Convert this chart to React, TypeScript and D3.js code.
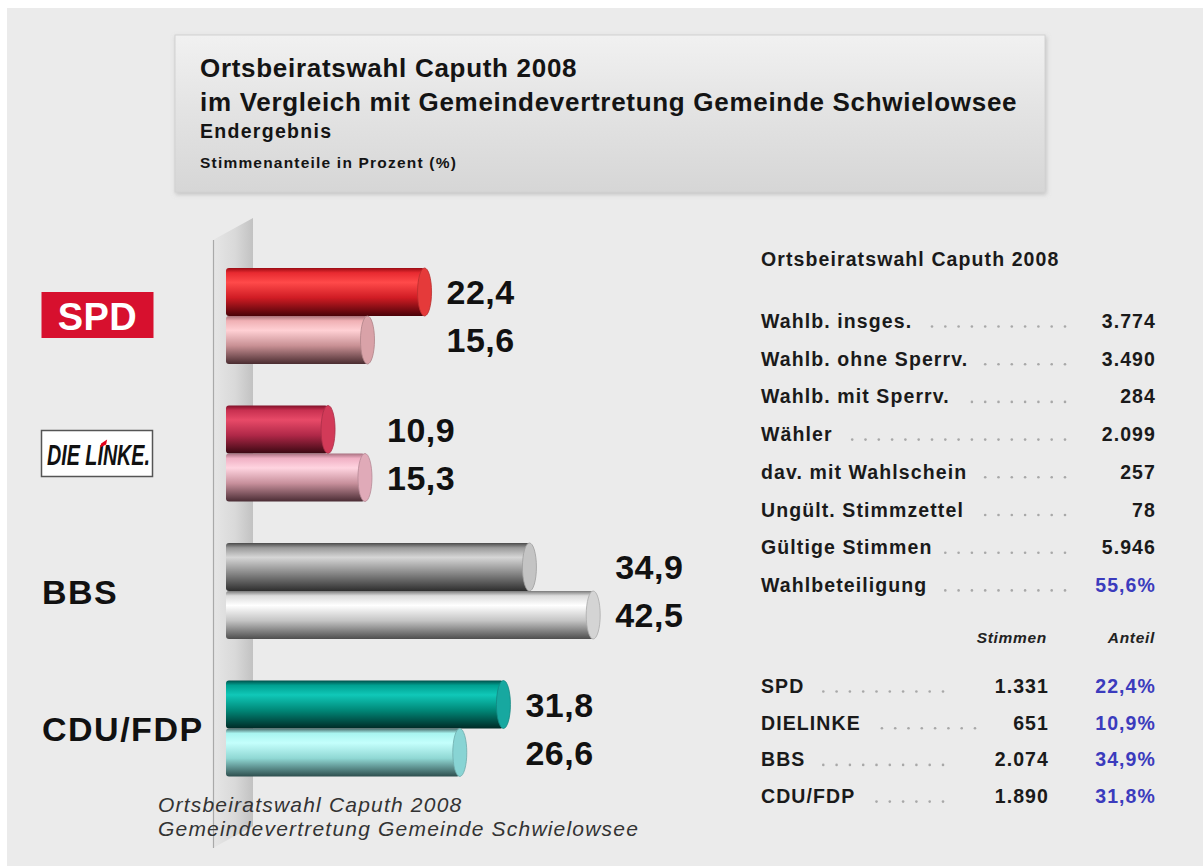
import React, { useEffect, useRef } from "react";
import * as d3 from "d3";

// ---------- data ----------
const categories = ["SPD", "DIE LINKE", "BBS", "CDU/FDP"];
const caputhValues = [22.4, 10.9, 34.9, 31.8];
const gemeindeValues = [15.6, 15.3, 42.5, 26.6];

const legendLabels = ["Ortsbeiratswahl Caputh 2008", "Gemeindevertretung Gemeinde Schwielowsee"];

const titleLines = [
  "Ortsbeiratswahl Caputh 2008",
  "im Vergleich mit Gemeindevertretung Gemeinde Schwielowsee",
  "Endergebnis",
  "Stimmenanteile in Prozent (%)",
];

const tableHeading = "Ortsbeiratswahl Caputh 2008";
const statLabels = [
  "Wahlb. insges.",
  "Wahlb. ohne Sperrv.",
  "Wahlb. mit Sperrv.",
  "Wähler",
  "dav. mit Wahlschein",
  "Ungült. Stimmzettel",
  "Gültige Stimmen",
  "Wahlbeteiligung",
];
const statValues = ["3.774", "3.490", "284", "2.099", "257", "78", "5.946", "55,6%"];
const partyHeaders = ["Stimmen", "Anteil"];
const partyNames = ["SPD", "DIELINKE", "BBS", "CDU/FDP"];
const partyVotes = ["1.331", "651", "2.074", "1.890"];
const partyShares = ["22,4%", "10,9%", "34,9%", "31,8%"];

// ---------- styles ----------
const caputhStops = [
  ["#9a0c14", "#e82a30", "#ff4a4a", "#d01c24", "#4a0208"],
  ["#801028", "#c83050", "#e84a68", "#b02848", "#3a0812"],
  ["#4a4a4a", "#9a9a9a", "#d6d6d6", "#8a8a8a", "#2e2e2e"],
  ["#00504a", "#00a090", "#10c8b8", "#008878", "#002a26"],
];
const gemeindeStops = [
  ["#a87078", "#f0b0b4", "#ffd0d4", "#c89094", "#4a2c30"],
  ["#a87080", "#f0b0c4", "#ffd4e0", "#c8909c", "#4a2c34"],
  ["#7a7a7a", "#dcdcdc", "#ffffff", "#c4c4c4", "#4e4e4e"],
  ["#4a6a6a", "#a8f4f0", "#c4fffc", "#90d8d4", "#2e4e4e"],
];
const caputhCaps = ["#e53a3a", "#d23a58", "#c4c4c4", "#17a8a0"];
const gemeindeCaps = ["#d9a2a8", "#e0aab8", "#d4d4d4", "#88d4d4"];

const FONT = "'Liberation Sans', Arial, Helvetica, sans-serif";
const W = 1203;
const H = 866;

const deFormat = d3.formatLocale({
  decimal: ",",
  thousands: ".",
  grouping: [3],
  currency: ["", " €"],
}).format(".1f");

export default function App() {
  const ref = useRef<SVGSVGElement>(null);

  useEffect(() => {
    const svg = d3.select(ref.current);
    svg.selectAll("*").remove();
    const defs = svg.append("defs");

    const vGrad = (id: string, colors: string[], offsets: number[]) => {
      const g = defs.append("linearGradient").attr("id", id).attr("x1", 0).attr("y1", 0).attr("x2", 0).attr("y2", 1);
      colors.forEach((c, i) => g.append("stop").attr("offset", offsets[i]).attr("stop-color", c));
    };

    const addText = (
      parent: any,
      o: { x: number; y: number; text: string; size: number; weight?: string; style?: string; ls?: number; anchor?: string; fill?: string }
    ) =>
      parent
        .append("text")
        .attr("x", o.x)
        .attr("y", o.y)
        .attr("font-family", FONT)
        .attr("font-size", o.size)
        .attr("font-weight", o.weight || "bold")
        .attr("font-style", o.style || "normal")
        .attr("text-anchor", o.anchor || "start")
        .attr("fill", o.fill || "#111")
        .style("letter-spacing", `${o.ls || 0}px`)
        .text(o.text);

    // background
    svg.append("rect").attr("x", 0).attr("y", 0).attr("width", W).attr("height", H).attr("fill", "#ffffff");
    svg.append("rect").attr("x", 7).attr("y", 8).attr("width", W - 7).attr("height", H - 8).attr("fill", "#ebebeb");

    // title box
    vGrad("titleGrad", ["#f1f1f1", "#e4e4e4", "#d6d6d6"], [0, 0.45, 1]);
    const shadow = defs.append("filter").attr("id", "shadow").attr("x", "-5%").attr("y", "-10%").attr("width", "110%").attr("height", "130%");
    shadow.append("feDropShadow").attr("dx", 1).attr("dy", 2).attr("stdDeviation", 2).attr("flood-color", "#9a9a9a").attr("flood-opacity", 0.5);
    svg.append("rect").attr("x", 175).attr("y", 35).attr("width", 870).attr("height", 157)
      .attr("fill", "url(#titleGrad)").attr("stroke", "#d2d2d2").attr("filter", "url(#shadow)");
    const titleSpec = [
      { y: 77, size: 26, ls: 0.7 },
      { y: 111, size: 26, ls: 0.7 },
      { y: 138, size: 19.5, ls: 1.3 },
      { y: 168, size: 15.5, ls: 1.2 },
    ];
    titleLines.forEach((t, i) => addText(svg, { x: 200, y: titleSpec[i].y, text: t, size: titleSpec[i].size, ls: titleSpec[i].ls, fill: "#141414" }));

    // 3D wall
    const wg = defs.append("linearGradient").attr("id", "wallGrad").attr("x1", 0).attr("y1", 0).attr("x2", 1).attr("y2", 0);
    [["0", "#e6e6e6"], ["0.55", "#d9d9d9"], ["1", "#c2c2c2"]].forEach(([o, c]) => wg.append("stop").attr("offset", o).attr("stop-color", c));
    svg.append("polygon").attr("points", "213,240 253,218 253,826 213,848").attr("fill", "url(#wallGrad)");
    svg.append("line").attr("x1", 213.5).attr("y1", 240).attr("x2", 213.5).attr("y2", 848).attr("stroke", "#a9a9a9").attr("stroke-width", 1.2);

    // scales
    const x = d3.scaleLinear().domain([0, 42.5]).range([236.6, 593.2]);
    const y = d3.scalePoint<string>().domain(categories).range([316, 728.5]);
    const barH = 48;
    const capRx = 7;
    const barX0 = 226;
    const offs = [0, 0.1, 0.3, 0.62, 1];

    categories.forEach((cat, i) => {
      const c = y(cat) as number;
      const series = [
        { v: caputhValues[i], stops: caputhStops[i], cap: caputhCaps[i], y0: c - barH, id: `gc${i}` },
        { v: gemeindeValues[i], stops: gemeindeStops[i], cap: gemeindeCaps[i], y0: c, id: `gg${i}` },
      ];
      series.forEach((s) => {
        vGrad(s.id, s.stops, offs);
        const g = svg.append("g");
        g.append("rect").attr("x", barX0).attr("y", s.y0).attr("width", x(s.v) - barX0).attr("height", barH)
          .attr("rx", 3).attr("fill", `url(#${s.id})`);
        g.append("ellipse").attr("cx", x(s.v)).attr("cy", s.y0 + barH / 2).attr("rx", capRx).attr("ry", barH / 2)
          .attr("fill", s.cap).attr("stroke", d3.color(s.cap)!.darker(0.6).toString()).attr("stroke-width", 0.8);
      });
      const lx = x(Math.max(caputhValues[i], gemeindeValues[i])) + capRx + 15;
      addText(svg, { x: lx, y: c - barH / 2 + 12, text: deFormat(caputhValues[i]), size: 34, ls: 0.5, fill: "#111" });
      addText(svg, { x: lx, y: c + barH / 2 + 12, text: deFormat(gemeindeValues[i]), size: 34, ls: 0.5, fill: "#111" });
    });

    // category labels / logos
    const cSPD = y("SPD") as number;
    svg.append("rect").attr("x", 41.5).attr("y", cSPD - 24).attr("width", 112).attr("height", 46).attr("fill", "#d7102e");
    addText(svg, { x: 97.5, y: cSPD + 14, text: "SPD", size: 38, anchor: "middle", fill: "#ffffff", ls: 0.5 });

    const cL = y("DIE LINKE") as number;
    svg.append("rect").attr("x", 41.5).attr("y", cL - 23).attr("width", 111).attr("height", 46)
      .attr("fill", "#ffffff").attr("stroke", "#555").attr("stroke-width", 1.5);
    const lt = svg.append("text").attr("x", 47).attr("y", cL + 11).attr("font-family", FONT).attr("font-size", 29)
      .attr("font-weight", "bold").attr("font-style", "italic").attr("fill", "#111")
      .attr("textLength", 103).attr("lengthAdjust", "spacingAndGlyphs").text("DIE LINKE.");
    try {
      const node = lt.node() as SVGTextElement;
      const p0 = node.getStartPositionOfChar(5);
      const p1 = node.getEndPositionOfChar(5);
      const mx = (p0.x + p1.x) / 2 + 3;
      svg.append("polygon")
        .attr("points", `${mx - 2},${cL - 10} ${mx + 4},${cL - 14} ${mx + 3},${cL - 9} ${mx - 3},${cL - 6}`)
        .attr("fill", "#e2001a");
    } catch (e) {}

    ["BBS", "CDU/FDP"].forEach((cat) => {
      addText(svg, { x: 42, y: (y(cat) as number) + 12.5, text: cat, size: 34, ls: 1.5, fill: "#111" });
    });

    // legend text
    legendLabels.forEach((t, i) =>
      addText(svg, { x: 158, y: 812 + i * 23.5, text: t, size: 21, weight: "normal", style: "italic", ls: 1.2, fill: "#333" })
    );

    // right table
    const dotLeader = (textNode: SVGTextElement, xStart: number, yBase: number, xEnd: number) => {
      const tEnd = xStart + textNode.getComputedTextLength();
      const pts: number[] = [];
      for (let px = xEnd; px > tEnd + 10; px -= 13.3) pts.push(px);
      svg.append("g").selectAll("circle").data(pts).join("circle")
        .attr("cx", (d) => d).attr("cy", yBase - 1.5).attr("r", 1.3).attr("fill", "#a8a8a8");
    };

    addText(svg, { x: 761, y: 266, text: tableHeading, size: 19.5, ls: 1.1, fill: "#1a1a1a" });
    statLabels.forEach((lab, i) => {
      const yy = 328 + i * 37.7;
      const t = addText(svg, { x: 761, y: yy, text: lab, size: 19.5, ls: 1.1, fill: "#1a1a1a" });
      dotLeader(t.node(), 761, yy, 1065);
      addText(svg, {
        x: 1156, y: yy, text: statValues[i], size: 19.5, ls: 1.1, anchor: "end",
        fill: i === statLabels.length - 1 ? "#3b3bbd" : "#1a1a1a",
      });
    });

    addText(svg, { x: 1047, y: 643, text: partyHeaders[0], size: 15.5, style: "italic", ls: 0.7, anchor: "end", fill: "#222" });
    addText(svg, { x: 1155, y: 643, text: partyHeaders[1], size: 15.5, style: "italic", ls: 0.7, anchor: "end", fill: "#222" });

    partyNames.forEach((p, i) => {
      const yy = 693 + i * 36.7;
      const t = addText(svg, { x: 761, y: yy, text: p, size: 19.5, ls: 1.1, fill: "#1a1a1a" });
      dotLeader(t.node(), 761, yy, i === 1 ? 975 : 943);
      addText(svg, { x: 1049, y: yy, text: partyVotes[i], size: 19.5, ls: 1.1, anchor: "end", fill: "#1a1a1a" });
      addText(svg, { x: 1156, y: yy, text: partyShares[i], size: 19.5, ls: 1.1, anchor: "end", fill: "#3b3bbd" });
    });
  }, []);

  return (
    <div style={{ position: "absolute", left: 0, top: 0 }}>
      <svg ref={ref} width={W} height={H} style={{ display: "block" }} />
    </div>
  );
}
